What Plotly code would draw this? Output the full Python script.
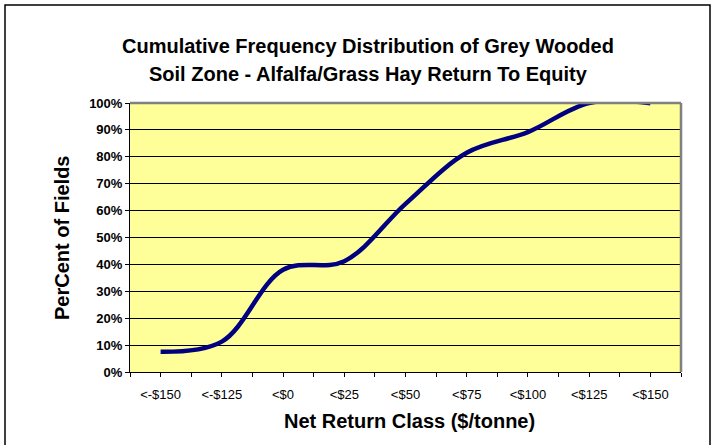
import plotly.graph_objects as go

categories = ["<-$150", "<-$125", "<$0", "<$25", "<$50", "<$75", "<$100", "<$125", "<$150"]
cum_pct = [0.075, 0.113, 0.38, 0.412, 0.625, 0.815, 0.892, 1.0, 0.999]
y_ticks = [i / 10 for i in range(11)]
y_labels = [f"{i * 10}%" for i in range(11)]

W, H = 718, 445
L, R, T, B = 130, 681, 103, 372  # plot area in pixels
pw, ph = R - L, B - T
FONT = "Liberation Sans, Arial, sans-serif"

def px(x):
    return (x - L) / pw

def py(y):
    return (B - y) / ph

x_idx = list(range(len(categories)))
tickvals = []
ticktext = []
for i, c in enumerate(categories):
    tickvals += [i - 0.5, i]
    ticktext += ["", c]
tickvals.append(len(categories) - 0.5)
ticktext.append("")

fig = go.Figure()
fig.add_trace(go.Scatter(
    x=x_idx, y=cum_pct, mode="lines",
    line=dict(color="#000080", width=4.5, shape="spline", smoothing=1.0),
    cliponaxis=False, hoverinfo="skip", showlegend=False,
))

fig.update_layout(
    width=W, height=H,
    margin=dict(l=L, r=W - R, t=T, b=H - B),
    paper_bgcolor="white",
    plot_bgcolor="#FFFF99",
    font=dict(family=FONT, color="black"),
    xaxis=dict(
        range=[-0.5, len(categories) - 0.5],
        tickmode="array", tickvals=tickvals, ticktext=ticktext,
        ticks="outside", ticklen=4, tickcolor="black", tickwidth=1,
        ticklabelstandoff=6,
        showline=True, linecolor="black", linewidth=1,
        showgrid=False, zeroline=False,
        tickfont=dict(size=13, family=FONT),
    ),
    yaxis=dict(
        range=[0, 1],
        tickmode="array", tickvals=y_ticks, ticktext=y_labels,
        ticks="outside", ticklen=4, tickcolor="black", tickwidth=1,
        showline=True, linecolor="black", linewidth=1,
        showgrid=True, gridcolor="black", gridwidth=1, zeroline=False,
        tickfont=dict(size=13, family=FONT, weight="bold"),
    ),
    shapes=[
        dict(type="rect", xref="paper", yref="paper",
             x0=px(5), x1=px(710), y0=py(452), y1=py(5),
             line=dict(color="black", width=1.5), fillcolor="rgba(0,0,0,0)", layer="below"),
        dict(type="line", xref="paper", yref="paper", x0=0, x1=1, y0=1, y1=1,
             line=dict(color="#808080", width=2.5), layer="above"),
        dict(type="line", xref="paper", yref="paper", x0=1, x1=1, y0=0, y1=1,
             line=dict(color="#808080", width=2.5), layer="above"),
    ],
    annotations=[
        dict(text="<b>Cumulative Frequency Distribution of Grey Wooded</b>",
             xref="paper", yref="paper", x=px(368), y=py(46), showarrow=False,
             xanchor="center", yanchor="middle", font=dict(size=20)),
        dict(text="<b>Soil Zone - Alfalfa/Grass Hay Return To Equity</b>",
             xref="paper", yref="paper", x=px(368), y=py(74), showarrow=False,
             xanchor="center", yanchor="middle", font=dict(size=20)),
        dict(text="<b>PerCent of Fields</b>", textangle=-90,
             xref="paper", yref="paper", x=px(62), y=py(238), showarrow=False,
             xanchor="center", yanchor="middle", font=dict(size=20)),
        dict(text="<b>Net Return Class ($/tonne)</b>",
             xref="paper", yref="paper", x=px(409), y=py(421), showarrow=False,
             xanchor="center", yanchor="middle", font=dict(size=20)),
    ],
)

fig.write_html("out.html", config={"displayModeBar": False},
               post_script="document.body.style.margin='0';")
